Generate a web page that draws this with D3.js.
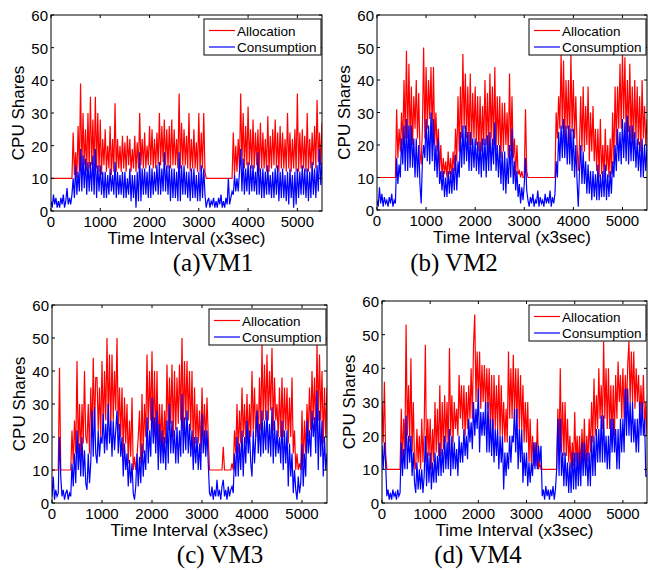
<!DOCTYPE html>
<html>
<head>
<meta charset="utf-8">
<script src="https://cdn.jsdelivr.net/npm/d3@7"></script>
<style>
  body { margin: 0; background: #fff; }
  svg { display: block; }
  .tick-label { font-family: Arial, "Liberation Sans", sans-serif; font-size: 15px; fill: #000; }
  .axis-title { font-family: Arial, "Liberation Sans", sans-serif; font-size: 17px; fill: #000; }
  .legend-text { font-family: Arial, "Liberation Sans", sans-serif; font-size: 13.5px; fill: #000; }
  .caption { font-family: "Times New Roman", "Liberation Serif", serif; font-size: 25px; fill: #000; }
</style>
</head>
<body>
<svg id="chart" width="648" height="570"></svg>
<script>
// one sample every 25 intervals, 0..5500 (each row = 500 intervals)
const step = 25;
const xTicks = [0, 1000, 2000, 3000, 4000, 5000];
const yTicks = [0, 10, 20, 30, 40, 50, 60];
const seriesNames = ['Allocation', 'Consumption'];

const vm1Alloc = [
  10,10,10,10, 10,10,10,10, 10,10,10,10, 10,10,10,10, 10,10,24,11,
  18,10,26,12, 39,12,30,14, 25,12,30,13, 35,14,28,12, 35,13,30,12,
  28,11,22,14, 25,12,20,13, 26,11,22,12, 33,12,22,13, 20,12,23,13,
  21,12,23,14, 22,12,19,13, 23,12,21,13, 30,14,22,13, 24,13,20,14,
  26,14,25,13, 22,13,24,14, 30,14,26,15, 28,14,25,13, 26,13,28,14,
  25,14,22,13, 36,13,27,14, 25,14,23,13, 30,12,22,13, 25,13,21,12,
  30,12,24,13, 30,12,10,10, 10,10,10,10, 10,10,10,10, 10,10,10,10,
  10,10,10,10, 10,10,10,10, 24,11,20,12, 22,13,36,14, 30,13,26,14,
  32,14,25,13, 28,13,24,14, 25,12,27,13, 24,13,22,12, 29,12,23,13,
  25,14,28,13, 24,12,26,13, 24,13,22,12, 30,13,24,12, 22,13,25,12,
  36,12,24,13, 25,13,23,12, 30,12,22,13, 24,14,26,13, 34,15,24,14,
  27];
const vm1Cons = [
  3,1,5,2, 4,1,3,1, 4,2,5,1, 3,7,2,4, 2,5,10,4,
  14,5,12,6, 19,6,17,7, 16,5,15,6, 15,6,17,5, 19,4,14,6,
  14,5,12,4, 12,4,11,5, 13,6,11,5, 15,4,12,5, 11,5,12,4,
  12,4,10,5, 13,3,11,4, 11,1,12,3, 18,3,13,5, 13,5,12,4,
  14,4,13,5, 12,6,14,5, 15,5,13,6, 18,6,14,5, 14,3,13,4,
  13,4,12,3, 18,3,14,5, 14,5,12,4, 12,3,13,4, 13,4,11,3,
  12,3,14,4, 13,5,1,3, 4,1,3,2, 4,1,3,1, 4,2,5,1,
  3,1,4,2, 10,2,4,6, 5,11,6,10, 6,12,19,6, 16,5,13,6,
  15,5,14,6, 14,6,12,5, 18,5,13,4, 13,4,12,5, 14,5,11,4,
  12,4,13,5, 14,3,12,4, 13,4,11,3, 12,2,13,4, 11,1,12,2,
  13,4,12,5, 14,5,13,4, 13,3,12,4, 15,5,13,4, 14,6,19,8,
  15];

const vm2Alloc = [
  10,10,10,10, 10,10,10,10, 10,10,10,10, 10,10,10,10, 31,16,25,18,
  30,20,40,22, 49,22,45,20, 38,20,35,25, 40,22,36,18, 14,25,50,22,
  44,25,40,28, 44,22,44,20, 30,18,25,12, 20,10,16,11, 15,10,18,11,
  16,10,18,12, 25,15,35,18, 38,22,48,25, 42,22,38,20, 42,20,36,22,
  38,20,35,18, 35,18,32,20, 40,20,36,18, 42,22,38,20, 44,18,35,20,
  35,16,33,18, 33,20,30,16, 42,18,35,16, 22,10,20,11, 12,10,12,10,
  10,31,12,10, 10,10,10,10, 10,10,10,10, 10,10,10,10, 10,10,10,10,
  10,10,10,10, 10,10,30,22, 35,25,48,25, 46,22,40,25, 40,20,48,24,
  40,22,35,20, 12,20,35,18, 38,18,32,20, 38,15,30,18, 32,15,25,12,
  25,10,28,11, 20,10,25,12, 20,10,22,11, 30,14,38,20, 38,25,45,25,
  48,28,47,22, 40,24,45,22, 38,20,40,22, 38,20,35,18, 40,22,32,20,
  28];
const vm2Cons = [
  3,1,7,2, 5,1,4,2, 3,1,4,2, 5,1,3,2, 16,8,14,10,
  22,14,26,12, 28,12,26,13, 26,13,22,10, 22,10,20,8, 2,15,20,16,
  28,15,26,14, 30,15,28,12, 20,10,22,8, 12,6,12,4, 10,4,12,5,
  12,5,13,6, 17,6,15,10, 24,13,26,14, 26,15,24,12, 24,12,22,13,
  22,12,21,11, 21,10,22,12, 22,10,23,12, 24,12,22,14, 27,12,20,10,
  20,8,18,6, 18,5,16,8, 20,10,25,8, 15,6,12,4, 8,2,7,3,
  8,16,6,3, 1,4,2,5, 1,3,2,6, 1,4,2,3, 1,5,2,4,
  2,6,1,4, 2,5,15,10, 24,15,26,16, 28,16,26,14, 26,14,25,12,
  25,10,20,9, 1,12,20,8, 18,8,15,5, 14,5,12,3, 12,4,11,3,
  14,3,11,4, 12,4,14,3, 11,4,12,5, 15,10,20,12, 25,15,24,14,
  28,16,27,15, 29,14,26,15, 26,15,24,13, 22,12,21,10, 22,10,20,12,
  20];

const vm3Alloc = [
  10,10,10,10, 10,10,41,10, 10,10,10,10, 10,10,10,10, 22,12,25,15,
  43,15,30,14, 30,18,40,20, 18,30,15,35, 20,44,22,38, 38,22,35,20,
  43,22,40,25, 50,25,45,22, 45,25,40,28, 50,22,35,20, 35,15,32,18,
  30,12,25,14, 32,10,14,10, 14,20,28,12, 33,15,30,20, 45,22,40,25,
  46,20,40,18, 40,16,30,18, 30,15,28,18, 42,22,38,24, 42,20,40,22,
  38,24,42,25, 50,22,43,25, 43,25,40,22, 40,16,35,18, 30,18,28,16,
  35,20,30,18, 32,20,10,10, 10,10,10,10, 10,10,10,10, 10,17,10,10,
  10,10,10,10, 12,10,22,15, 30,15,28,18, 35,20,30,18, 33,18,30,20,
  40,22,35,20, 30,20,38,22, 48,25,42,25, 45,25,40,28, 47,22,38,25,
  30,20,35,20, 38,20,35,22, 35,18,32,20, 38,15,22,10, 15,10,12,10,
  28,12,25,15, 30,20,35,22, 40,25,38,22, 48,25,45,25, 40,18,35,20,
  35];
const vm3Cons = [
  2,8,1,4, 2,3,20,8, 2,4,1,3, 4,1,3,2, 12,5,15,6,
  22,10,18,8, 20,8,16,6, 4,15,6,12, 28,14,29,15, 12,22,14,20,
  18,27,15,24, 16,30,18,25, 14,25,16,22, 28,15,24,14, 20,8,18,10,
  15,5,13,6, 12,3,1,5, 15,5,14,6, 18,8,16,10, 26,12,22,14,
  32,18,26,15, 28,10,24,12, 22,12,20,10, 25,12,30,15, 25,15,22,12,
  23,12,22,14, 33,15,26,16, 28,15,24,14, 22,10,20,12, 20,10,18,10,
  27,15,22,14, 22,12,3,2, 5,1,4,2, 7,2,4,1, 5,7,2,4,
  1,5,2,4, 5,3,15,8, 20,8,18,10, 22,8,20,12, 25,15,22,12,
  8,22,12,20, 28,15,24,14, 28,15,25,16, 28,15,24,14, 29,12,25,14,
  22,15,20,12, 25,10,22,12, 22,5,18,8, 15,3,10,4, 1,8,3,6,
  18,5,15,8, 25,15,22,14, 28,20,26,15, 34,10,28,14, 25,8,20,10,
  15];

const vm4Alloc = [
  30,18,36,15, 10,10,10,10, 10,10,10,10, 10,10,10,10, 28,12,25,15,
  53,20,35,18, 43,15,30,12, 10,22,12,20, 10,25,12,22, 47,12,25,14,
  25,10,22,12, 30,15,28,14, 35,14,30,16, 32,18,30,15, 46,20,32,18,
  30,22,28,20, 38,25,35,22, 35,20,33,22, 35,25,40,25, 47,56,30,45,
  30,45,28,41, 30,41,28,40, 28,40,20,38, 20,38,22,35, 22,38,20,35,
  20,30,18,28, 18,45,25,40, 25,44,25,40, 25,40,22,38, 22,35,18,30,
  18,30,12,25, 12,20,11,18, 11,25,10,12, 10,10,10,10, 10,10,10,10,
  10,10,10,10, 10,10,28,15, 40,15,30,14, 30,14,25,12, 20,10,18,11,
  27,12,20,10, 20,10,22,12, 25,10,20,12, 25,15,30,18, 37,20,32,22,
  40,25,35,22, 48,25,40,22, 40,22,35,20, 35,20,38,25, 42,30,38,25,
  40,25,38,28, 41,48,30,45, 30,45,28,40, 30,38,25,35, 25,38,22,30,
  20];
const vm4Cons = [
  17,10,18,12, 2,4,1,3, 1,4,2,3, 1,4,2,3, 18,8,16,10,
  26,10,20,12, 20,8,15,6, 3,12,4,10, 4,10,3,8, 20,5,15,6,
  15,4,12,6, 15,6,14,8, 18,8,16,9, 20,10,18,10, 22,8,20,10,
  18,10,16,8, 20,12,18,12, 22,14,20,13, 25,18,24,16, 30,20,28,22,
  34,15,27,20, 27,20,30,15, 30,15,25,14, 25,12,22,14, 22,10,20,12,
  20,4,15,8, 15,10,20,12, 20,18,28,15, 28,10,22,12, 22,6,15,8,
  15,5,12,6, 12,8,18,10, 18,10,17,12, 17,2,4,1, 5,2,4,1,
  4,2,5,1, 4,10,25,8, 25,8,15,5, 15,5,12,3, 12,3,15,4,
  15,4,15,5, 15,5,18,8, 18,8,15,5, 15,5,20,8, 20,8,22,12,
  22,12,26,12, 26,12,20,10, 20,10,25,15, 25,15,22,10, 22,10,25,15,
  25,15,34,20, 34,20,30,18, 30,18,25,15, 25,15,30,20, 30,20,25,8,
  8];

const panels = [
  { caption: '(a)VM1', alloc: vm1Alloc, cons: vm1Cons, left: 51, top: 15, right: 322, bottom: 211, capX: 213, capY: 271 },
  { caption: '(b) VM2', alloc: vm2Alloc, cons: vm2Cons, left: 377, top: 15, right: 647, bottom: 210, capX: 454, capY: 271 },
  { caption: '(c) VM3', alloc: vm3Alloc, cons: vm3Cons, left: 52, top: 305, right: 327, bottom: 503, capX: 220, capY: 563 },
  { caption: '(d) VM4', alloc: vm4Alloc, cons: vm4Cons, left: 382, top: 301, right: 647, bottom: 503, capX: 478, capY: 563 },
];

const colors = { Allocation: '#ff0000', Consumption: '#0000ff' };
const svg = d3.select('#chart');

panels.forEach((p, idx) => {
  const x = d3.scaleLinear().domain([0, 5500]).range([p.left, p.right]);
  const y = d3.scaleLinear().domain([0, 60]).range([p.bottom, p.top]);
  const g = svg.append('g');

  const clipId = `clip-${idx}`;
  g.append('clipPath').attr('id', clipId)
    .append('rect')
    .attr('x', p.left).attr('y', p.top)
    .attr('width', p.right - p.left).attr('height', p.bottom - p.top);

  const line = d3.line().x((d, i) => x(i * step)).y((d) => y(d));

  g.append('path')
    .datum(p.alloc)
    .attr('clip-path', `url(#${clipId})`)
    .attr('fill', 'none')
    .attr('stroke', colors.Allocation)
    .attr('stroke-width', 1.2)
    .attr('d', line);

  g.append('path')
    .datum(p.cons)
    .attr('clip-path', `url(#${clipId})`)
    .attr('fill', 'none')
    .attr('stroke', colors.Consumption)
    .attr('stroke-width', 1.2)
    .attr('d', line);

  // frame
  g.append('rect')
    .attr('x', p.left).attr('y', p.top)
    .attr('width', p.right - p.left).attr('height', p.bottom - p.top)
    .attr('fill', 'none').attr('stroke', '#000').attr('stroke-width', 1);

  // inward ticks on all four sides
  const tickLen = 3;
  xTicks.forEach((t) => {
    g.append('line').attr('x1', x(t)).attr('x2', x(t)).attr('y1', p.bottom).attr('y2', p.bottom - tickLen).attr('stroke', '#000');
    g.append('line').attr('x1', x(t)).attr('x2', x(t)).attr('y1', p.top).attr('y2', p.top + tickLen).attr('stroke', '#000');
    g.append('text').attr('class', 'tick-label')
      .attr('x', x(t)).attr('y', p.bottom + 16)
      .attr('text-anchor', 'middle').text(t);
  });
  yTicks.forEach((t) => {
    g.append('line').attr('x1', p.left).attr('x2', p.left + tickLen).attr('y1', y(t)).attr('y2', y(t)).attr('stroke', '#000');
    g.append('line').attr('x1', p.right).attr('x2', p.right - tickLen).attr('y1', y(t)).attr('y2', y(t)).attr('stroke', '#000');
    g.append('text').attr('class', 'tick-label')
      .attr('x', p.left - 3).attr('y', y(t) + 6)
      .attr('text-anchor', 'end').text(t);
  });

  g.append('text').attr('class', 'axis-title')
    .attr('transform', `translate(${p.left - 27},${(p.top + p.bottom) / 2}) rotate(-90)`)
    .attr('text-anchor', 'middle').text('CPU Shares');

  g.append('text').attr('class', 'axis-title')
    .attr('x', (p.left + p.right) / 2).attr('y', p.bottom + 33)
    .attr('text-anchor', 'middle').text('Time Interval (x3sec)');

  // legend
  const lw = 117, lh = 36;
  const lx = p.right - lw - 1, ly = p.top + 4;
  const leg = g.append('g');
  leg.append('rect').attr('x', lx).attr('y', ly).attr('width', lw).attr('height', lh)
    .attr('fill', '#fff').attr('stroke', '#000').attr('stroke-width', 1);
  seriesNames.forEach((name, i) => {
    const yy = ly + 11.5 + i * 16.5;
    leg.append('line').attr('x1', lx + 5).attr('x2', lx + 31).attr('y1', yy).attr('y2', yy)
      .attr('stroke', colors[name]).attr('stroke-width', 1.2);
    leg.append('text').attr('class', 'legend-text')
      .attr('x', lx + 33).attr('y', yy + 5).text(name);
  });

  g.append('text').attr('class', 'caption')
    .attr('x', p.capX).attr('y', p.capY)
    .attr('text-anchor', 'middle').text(p.caption);
});
</script>
</body>
</html>
